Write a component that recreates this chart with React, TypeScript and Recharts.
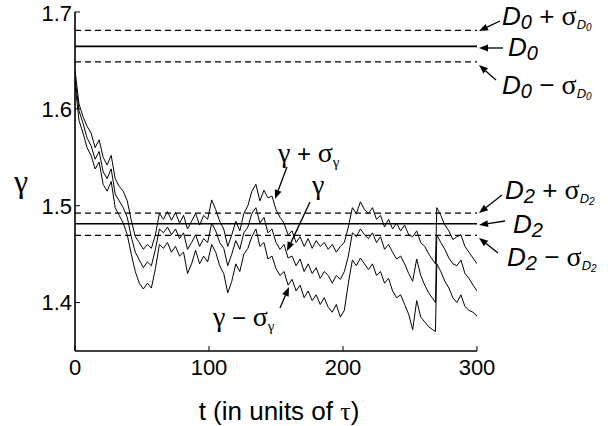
import React from 'react';
import { LineChart, Line, XAxis, YAxis, ReferenceLine } from 'recharts';

const times = [
  0, 3, 6, 9, 12, 15, 18, 21, 24, 27, 30, 33, 36, 39, 42, 45, 48, 51, 54, 57,
  60, 63, 66, 69, 72, 75, 78, 81, 84, 87, 90, 93, 96, 99, 102, 105, 108, 111, 114, 117,
  120, 123, 126, 129, 132, 135, 138, 141, 144, 147, 150, 153, 156, 159, 162, 165, 168, 171, 174, 177,
  180, 183, 186, 189, 192, 195, 198, 201, 204, 207, 210, 213, 216, 219, 222, 225, 228, 231, 234, 237,
  240, 243, 246, 249, 252, 255, 258, 261, 264, 267, 269, 270, 273, 276, 279, 282, 285, 288, 291, 294,
  297, 300,
];

const gammaPlus = [
  1.640, 1.605, 1.592, 1.582, 1.575, 1.560, 1.568, 1.550, 1.542, 1.552, 1.528, 1.520, 1.515, 1.505, 1.485, 1.468, 1.462, 1.455, 1.460, 1.456,
  1.470, 1.492, 1.486, 1.494, 1.485, 1.493, 1.482, 1.490, 1.476, 1.484, 1.492, 1.480, 1.490, 1.486, 1.506, 1.496, 1.484, 1.476, 1.458, 1.470,
  1.484, 1.474, 1.492, 1.500, 1.515, 1.522, 1.505, 1.516, 1.508, 1.510, 1.496, 1.488, 1.482, 1.470, 1.474, 1.462, 1.468, 1.458, 1.466, 1.456,
  1.464, 1.458, 1.462, 1.455, 1.460, 1.452, 1.458, 1.462, 1.478, 1.498, 1.492, 1.504, 1.496, 1.492, 1.498, 1.486, 1.490, 1.478, 1.486, 1.476,
  1.482, 1.474, 1.480, 1.470, 1.468, 1.474, 1.462, 1.458, 1.450, 1.444, 1.440, 1.498, 1.490, 1.480, 1.474, 1.465, 1.468, 1.470, 1.458, 1.452,
  1.446, 1.440,
];

const gamma = [
  1.632, 1.598, 1.585, 1.570, 1.562, 1.548, 1.556, 1.535, 1.528, 1.538, 1.512, 1.505, 1.498, 1.488, 1.468, 1.452, 1.444, 1.436, 1.442, 1.438,
  1.455, 1.476, 1.472, 1.478, 1.470, 1.476, 1.466, 1.472, 1.455, 1.462, 1.470, 1.458, 1.466, 1.462, 1.482, 1.474, 1.462, 1.456, 1.438, 1.450,
  1.464, 1.455, 1.472, 1.478, 1.492, 1.498, 1.482, 1.488, 1.472, 1.476, 1.462, 1.455, 1.460, 1.446, 1.448, 1.438, 1.445, 1.432, 1.440, 1.430,
  1.436, 1.425, 1.432, 1.428, 1.420, 1.428, 1.424, 1.432, 1.448, 1.472, 1.468, 1.476, 1.470, 1.466, 1.472, 1.462, 1.468, 1.455, 1.460, 1.452,
  1.445, 1.448, 1.440, 1.430, 1.422, 1.445, 1.428, 1.418, 1.410, 1.404, 1.400, 1.470, 1.462, 1.455, 1.446, 1.440, 1.438, 1.444, 1.430, 1.425,
  1.418, 1.412,
];

const gammaMinus = [
  1.626, 1.588, 1.575, 1.560, 1.552, 1.538, 1.545, 1.522, 1.515, 1.525, 1.498, 1.490, 1.482, 1.470, 1.450, 1.432, 1.420, 1.414, 1.420, 1.415,
  1.435, 1.460, 1.456, 1.462, 1.452, 1.458, 1.448, 1.452, 1.430, 1.440, 1.454, 1.440, 1.448, 1.442, 1.460, 1.452, 1.438, 1.430, 1.410, 1.422,
  1.440, 1.432, 1.450, 1.456, 1.468, 1.476, 1.458, 1.462, 1.445, 1.448, 1.435, 1.428, 1.432, 1.418, 1.424, 1.412, 1.418, 1.405, 1.412, 1.402,
  1.408, 1.398, 1.405, 1.395, 1.390, 1.398, 1.385, 1.392, 1.420, 1.444, 1.438, 1.446, 1.440, 1.434, 1.440, 1.428, 1.432, 1.420, 1.425, 1.412,
  1.405, 1.408, 1.398, 1.388, 1.372, 1.402, 1.385, 1.380, 1.375, 1.372, 1.370, 1.440, 1.432, 1.422, 1.415, 1.405, 1.400, 1.408, 1.396, 1.392,
  1.390, 1.386,
];

const xTicks = [0, 100, 200, 300];
const yTicks = [1.4, 1.5, 1.6, 1.7];
const solidLevels = [1.6645, 1.4814];
const dashedLevels = [1.681, 1.6485, 1.4924, 1.4694];

const data = times.map((t, i) => ({ t, up: gammaPlus[i], mid: gamma[i], low: gammaMinus[i] }));

const SANS = 'Liberation Sans, Arial, sans-serif';
const SERIF = 'Liberation Serif, Times New Roman, serif';
const tickStyle = { fill: '#000', fontSize: 22, fontFamily: SANS };

const Arrow = ({ x1, y1, x2, y2 }: { x1: number; y1: number; x2: number; y2: number }) => {
  const ang = Math.atan2(y2 - y1, x2 - x1);
  const L = 9;
  const W = 3.5;
  const bx = x2 - L * Math.cos(ang);
  const by = y2 - L * Math.sin(ang);
  const px = -Math.sin(ang) * W;
  const py = Math.cos(ang) * W;
  return (
    <g>
      <line x1={x1} y1={y1} x2={bx} y2={by} stroke="#000" strokeWidth={1.3} />
      <polygon points={`${x2},${y2} ${bx + px},${by + py} ${bx - px},${by - py}`} fill="#000" />
    </g>
  );
};

const DLabel = ({ x, y, sub, sign }: { x: number; y: number; sub: string; sign?: string }) => (
  <text x={x} y={y} fontFamily={SANS} fontSize={26} fill="#000">
    <tspan fontStyle="italic">D</tspan>
    <tspan fontStyle="italic" fontSize={20} dy={4}>{sub}</tspan>
    {sign ? (
      <>
        <tspan dy={-4}>{` ${sign} `}</tspan>
        <tspan fontFamily={SERIF} fontSize={28}>σ</tspan>
        <tspan fontStyle="italic" fontSize={13} dy={4}>D</tspan>
        <tspan fontStyle="italic" fontSize={10} dy={2}>{sub}</tspan>
      </>
    ) : null}
  </text>
);

const GLabel = ({ x, y, sign }: { x: number; y: number; sign?: string }) => (
  <text x={x} y={y} fontFamily={SERIF} fontSize={28} fill="#000">
    <tspan>γ</tspan>
    {sign ? (
      <>
        <tspan fontFamily={SANS} fontSize={24}>{` ${sign} `}</tspan>
        <tspan>σ</tspan>
        <tspan fontSize={15} dy={5}>γ</tspan>
      </>
    ) : null}
  </text>
);

export default function App() {
  return (
    <div style={{ position: 'absolute', left: 0, top: 0, width: 608, height: 426, background: '#fff' }}>
      <LineChart width={608} height={426} data={data} margin={{ top: 12, right: 131, bottom: 0, left: 0 }}>
        <XAxis
          dataKey="t"
          type="number"
          domain={[0, 300]}
          ticks={xTicks}
          allowDataOverflow
          height={75}
          tickSize={-5}
          tickMargin={13}
          tick={tickStyle}
          axisLine={{ stroke: '#000', strokeWidth: 1.6 }}
          tickLine={{ stroke: '#000', strokeWidth: 1 }}
        />
        <XAxis
          xAxisId="top"
          orientation="top"
          type="number"
          domain={[0, 300]}
          ticks={xTicks}
          height={0}
          tickSize={-5}
          tick={() => <g />}
          axisLine={{ stroke: '#000', strokeWidth: 1.3 }}
          tickLine={{ stroke: '#000', strokeWidth: 1 }}
        />
        <YAxis
          type="number"
          domain={[1.35, 1.7]}
          ticks={yTicks}
          allowDataOverflow
          width={75}
          tickSize={-5}
          tickMargin={8}
          tick={tickStyle}
          axisLine={{ stroke: '#000', strokeWidth: 1.6 }}
          tickLine={{ stroke: '#000', strokeWidth: 1 }}
        />
        <YAxis
          yAxisId="right"
          orientation="right"
          type="number"
          domain={[1.35, 1.7]}
          ticks={yTicks}
          width={0}
          tickSize={-5}
          tick={() => <g />}
          axisLine={{ stroke: '#000', strokeWidth: 1.3 }}
          tickLine={{ stroke: '#000', strokeWidth: 1 }}
        />
        {solidLevels.map((v) => (
          <ReferenceLine key={`s${v}`} y={v} stroke="#000" strokeWidth={1.6} />
        ))}
        {dashedLevels.map((v) => (
          <ReferenceLine key={`d${v}`} y={v} stroke="#000" strokeWidth={1.2} strokeDasharray="6 4" />
        ))}
        <Line dataKey="up" type="linear" stroke="#000" strokeWidth={1} dot={false} isAnimationActive={false} />
        <Line dataKey="mid" type="linear" stroke="#000" strokeWidth={1} dot={false} isAnimationActive={false} />
        <Line dataKey="low" type="linear" stroke="#000" strokeWidth={1} dot={false} isAnimationActive={false} />
      </LineChart>
      <svg width={608} height={426} style={{ position: 'absolute', left: 0, top: 0, pointerEvents: 'none' }}>
        <DLabel x={502} y={25} sub="0" sign="+" />
        <Arrow x1={500} y1={21} x2={479} y2={31} />
        <DLabel x={508} y={56} sub="0" />
        <Arrow x1={503} y1={48} x2={479} y2={48} />
        <DLabel x={502} y={94} sub="0" sign="−" />
        <Arrow x1={496} y1={80} x2={479} y2={65} />

        <DLabel x={505} y={199} sub="2" sign="+" />
        <Arrow x1={502} y1={195} x2={479} y2={213} />
        <DLabel x={513} y={233} sub="2" />
        <Arrow x1={505} y1={221} x2={479} y2={225} />
        <DLabel x={507} y={266} sub="2" sign="−" />
        <Arrow x1={498} y1={253} x2={479} y2={238} />

        <GLabel x={278} y={162} sign="+" />
        <Arrow x1={287} y1={167} x2={275} y2={199} />
        <GLabel x={312} y={194} />
        <Arrow x1={310} y1={202} x2={287} y2={251} />
        <GLabel x={213} y={326} sign="−" />
        <Arrow x1={280} y1={308} x2={289} y2={287} />

        <text x={14} y={192} fontFamily={SERIF} fontSize={32} fill="#000">γ</text>
        <text x={279} y={420} textAnchor="middle" fontFamily={SANS} fontSize={26} fill="#000">
          t  (in units of <tspan fontFamily={SERIF}>τ</tspan>)
        </text>
      </svg>
    </div>
  );
}
